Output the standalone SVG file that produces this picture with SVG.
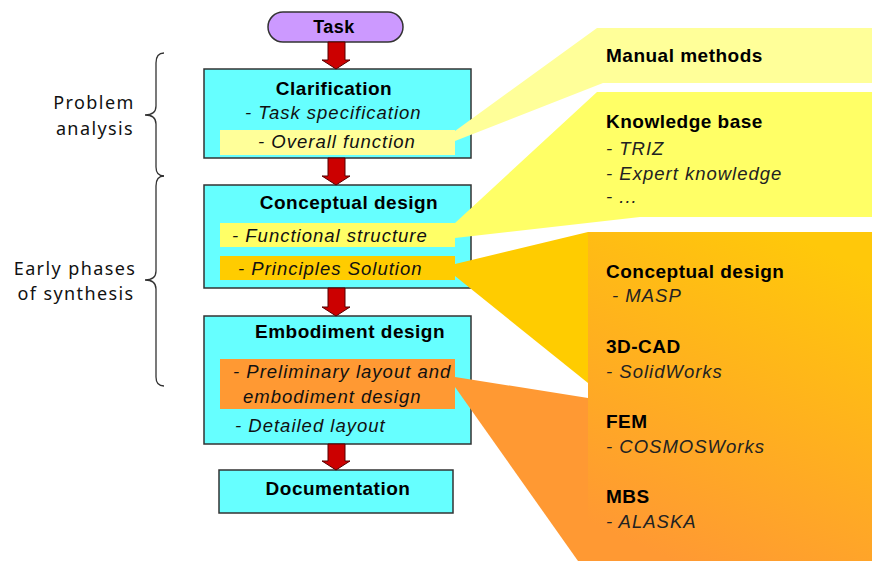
<svg xmlns="http://www.w3.org/2000/svg" width="872" height="561" viewBox="0 0 872 561">
<style>
.box{fill:#66FFFF;stroke:#333;stroke-width:1.5}
.t{font-family:"Liberation Sans",Arial,sans-serif;font-weight:bold;font-size:19px;letter-spacing:0.5px;fill:#000}
.i{font-family:"Liberation Sans",Arial,sans-serif;font-style:italic;font-size:18.5px;letter-spacing:1px;fill:#111}
.ri{font-family:"Liberation Sans",Arial,sans-serif;font-style:italic;font-size:18.5px;letter-spacing:1px;fill:#222}
.lbl{font-family:"Noto Sans","DejaVu Sans",sans-serif;font-size:18px;letter-spacing:1.4px;fill:#111;text-anchor:middle}
.arr{fill:#CC0000;stroke:#550000;stroke-width:1}
.brace{fill:none;stroke:#333;stroke-width:1.3}
</style>
<defs>
<linearGradient id="og" x1="0.7" y1="0" x2="0.3" y2="1">
<stop offset="0" stop-color="#FFC80A"/>
<stop offset="1" stop-color="#FF9933"/>
</linearGradient>
</defs>

<g id="braces">
<path class="brace" d="M164,53 Q156,53 156,63 L156,106 Q156,115 145,115 Q156,115 156,124 L156,167 Q156,176 164,176"/>
<path class="brace" d="M164,176 Q156,176 156,186 L156,271 Q156,280 145,280 Q156,280 156,289 L156,377 Q156,386 164,386"/>
</g>
<g id="label-problem">
<text class="lbl" x="94" y="109">Problem</text>
<text class="lbl" x="95" y="135">analysis</text>
</g>
<g id="label-early">
<text class="lbl" x="75" y="275">Early phases</text>
<text class="lbl" x="76" y="300">of synthesis</text>
</g>

<g id="task">
<rect x="268" y="12" width="135" height="30" rx="15" fill="#CC99FF" stroke="#333" stroke-width="1.5"/>
<text class="t" x="334" y="33" text-anchor="middle" style="font-size:18px">Task</text>
</g>

<g id="clarification">
<rect class="box" x="204" y="69" width="267" height="89"/>
<rect x="220" y="130" width="235" height="25" fill="#FFFF99"/>
<text class="t" x="334" y="95" text-anchor="middle">Clarification</text>
<text class="i" x="245" y="119">- Task specification</text>
<text class="i" x="258" y="148">- Overall function</text>
</g>

<g id="conceptual">
<rect class="box" x="204" y="185" width="267" height="103"/>
<rect x="220" y="223" width="235" height="24" fill="#FFFF66"/>
<rect x="220" y="256" width="235" height="24" fill="#FFCC00"/>
<text class="t" x="349" y="209" text-anchor="middle">Conceptual design</text>
<text class="i" x="232" y="242">- Functional structure</text>
<text class="i" x="238" y="275">- Principles Solution</text>
</g>

<g id="embodiment">
<rect class="box" x="204" y="316" width="267" height="128"/>
<rect x="220" y="359" width="235" height="50" fill="#FF9933"/>
<text class="t" x="350" y="338" text-anchor="middle">Embodiment design</text>
<text class="i" x="233" y="378">- Preliminary layout and</text>
<text class="i" x="243" y="403">embodiment design</text>
<text class="i" x="235" y="432">- Detailed layout</text>
</g>

<g id="documentation">
<rect class="box" x="219" y="470" width="234" height="43"/>
<text class="t" x="338" y="495" text-anchor="middle">Documentation</text>
</g>

<g id="connectors">
<path class="arr" d="M328,42 H345 V60 H350 L336,69 L322,60 H328 Z"/>
<path class="arr" d="M328,158 H345 V176 H350 L336,185 L322,176 H328 Z"/>
<path class="arr" d="M328,288 H345 V307 H350 L336,316 L322,307 H328 Z"/>
<path class="arr" d="M328,444 H345 V461 H350 L336,470 L322,461 H328 Z"/>
</g>

<g id="manual-methods">
<polygon points="455,131 597,28 872,28 872,83 603,83 455,141" fill="#FFFF99"/>
<text class="t" x="606" y="62">Manual methods</text>
</g>

<g id="knowledge-base">
<polygon points="455,223 597,92 872,92 872,217 640,217 455,238" fill="#FFFF66"/>
<text class="t" x="606" y="128">Knowledge base</text>
<text class="ri" x="606" y="155">- TRIZ</text>
<text class="ri" x="606" y="180">- Expert knowledge</text>
<text class="ri" x="606" y="203">- ...</text>
</g>

<g id="tools">
<polygon points="455,264 588,232 588,383 455,276" fill="#FFCC00"/>
<polygon points="455,377 588,398 588,561 578,561 455,387" fill="#FF9933"/>
<rect x="588" y="232" width="284" height="329" fill="url(#og)"/>
<text class="t" x="606" y="278">Conceptual design</text>
<text class="ri" x="612" y="302">- MASP</text>
<text class="t" x="606" y="353">3D-CAD</text>
<text class="ri" x="606" y="378">- SolidWorks</text>
<text class="t" x="606" y="428">FEM</text>
<text class="ri" x="606" y="453">- COSMOSWorks</text>
<text class="t" x="606" y="503">MBS</text>
<text class="ri" x="606" y="528">- ALASKA</text>
</g>
</svg>
